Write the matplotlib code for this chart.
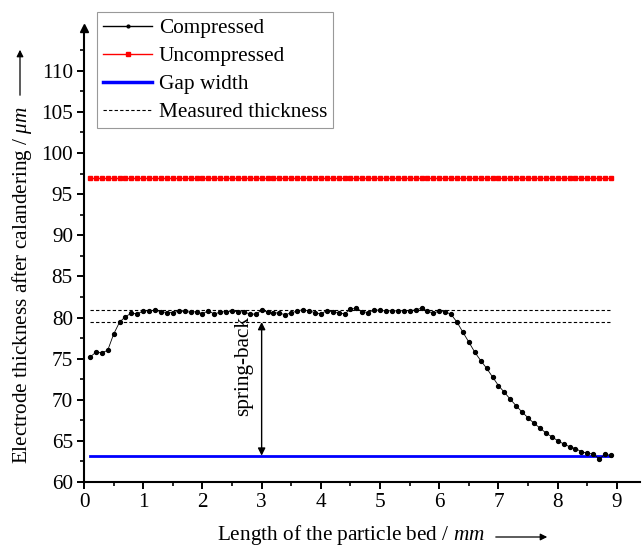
import numpy as np
import matplotlib
matplotlib.use("Agg")
import matplotlib.pyplot as plt
from matplotlib.lines import Line2D
from matplotlib.patches import FancyArrowPatch

plt.rcParams["font.family"] = ["Liberation Serif", "DejaVu Serif"]
plt.rcParams["mathtext.fontset"] = "custom"
plt.rcParams["mathtext.rm"] = "Liberation Serif"
plt.rcParams["mathtext.it"] = "Liberation Serif:italic"

FS = 15.3

# position along the particle bed (mm), one point every 0.1 mm
x_mm = np.round(np.arange(1, 90) * 0.1, 1)

# electrode thickness after calendering (um)
compressed = [
    75.17, 75.78, 75.73, 76.00, 77.97, 79.43, 80.11, 80.52, 80.44, 80.80,
    80.84, 80.88, 80.72, 80.60, 80.60, 80.76, 80.76, 80.64,
    80.72, 80.44, 80.84, 80.40, 80.68, 80.72, 80.76, 80.72, 80.68, 80.44,
    80.40, 80.88, 80.68, 80.60, 80.52, 80.35, 80.55, 80.80, 80.95, 80.80,
    80.60,
    80.44, 80.84, 80.68, 80.60, 80.44, 81.00, 81.13, 80.72, 80.60, 80.92,
    80.88, 80.80, 80.84, 80.80, 80.84, 80.84, 80.92, 81.13, 80.80, 80.50,
    80.82, 80.72, 80.38, 79.43, 78.20, 77.00, 75.78, 74.76, 73.83, 72.77,
    71.72, 70.90, 70.06, 69.25, 68.50, 67.80, 67.14, 66.57, 65.97, 65.50,
    65.03, 64.62, 64.30, 64.06, 63.70, 63.49, 63.40, 62.80, 63.36, 63.24,
]
uncompressed = 97.0
gap_width = 63.2
measured = [80.9, 79.45]

fig = plt.figure(figsize=(6.44, 5.46), dpi=100)
ax = fig.add_axes([84 / 644, 64 / 546, 556 / 644, 454 / 546])

ax.plot(x_mm, compressed, "-", color="black", lw=0.6, marker="o", ms=2.8,
        mec="black", mfc="black", zorder=4)
ax.plot(x_mm, np.full(len(x_mm), uncompressed), "-", color="red", lw=0.9,
        marker="s", ms=3.0, mec="red", mfc="red", zorder=3)
ax.plot([x_mm[0], x_mm[-1]], [gap_width, gap_width], color="blue", lw=2.0, zorder=3)
for m in measured:
    ax.plot([x_mm[0], x_mm[-1]], [m, m], color="black", lw=0.8,
            ls=(0, (3, 2)), zorder=2)

# spring-back arrow between lower measured thickness and gap width
ax.annotate("", xy=(3.0, gap_width), xytext=(3.0, measured[1]),
            arrowprops=dict(arrowstyle="<|-|>", color="black", lw=1.0,
                            mutation_scale=11, shrinkA=0, shrinkB=0))
ax.text(2.70, 74.1, "spring-back", rotation=90, ha="center", va="center",
        fontsize=FS)

ax.set_xlim(0, 9.39)
ax.set_ylim(60, 115.2)
ax.set_xticks(np.arange(0, 10, 1))
ax.set_yticks(np.arange(60, 115, 5))
ax.set_xticks(np.arange(0.5, 9.5, 1), minor=True)
ax.set_yticks(np.arange(62.5, 115, 5), minor=True)
ax.tick_params(which="major", direction="out", length=5, width=1.4,
               labelsize=FS, pad=3)
ax.tick_params(which="minor", direction="out", length=3, width=1.2)

for s in ("top", "right"):
    ax.spines[s].set_visible(False)
for s in ("left", "bottom"):
    ax.spines[s].set_linewidth(1.5)

# arrow heads on the axis lines
ax.plot(1, 0, ">k", ms=6, transform=ax.get_yaxis_transform(), clip_on=False)
ax.plot(0, 1, "^k", ms=6, transform=ax.get_xaxis_transform(), clip_on=False)

# axis labels with direction arrows
fig.text(22 / 644, 1 - 285 / 546,
         r"Electrode thickness after calandering / $\mu m$",
         rotation=90, ha="center", va="center", fontsize=FS)
fig.text(351 / 644, 1 - 535 / 546, r"Length of the particle bed / $mm$",
         ha="center", va="center", fontsize=FS)
fig.add_artist(FancyArrowPatch(
    (20 / 644, 1 - 98 / 546), (20 / 644, 1 - 47 / 546),
    transform=fig.transFigure, arrowstyle="-|>", mutation_scale=10,
    color="black", lw=0.9))
fig.add_artist(FancyArrowPatch(
    (493 / 644, 1 - 537 / 546), (550 / 644, 1 - 537 / 546),
    transform=fig.transFigure, arrowstyle="-|>", mutation_scale=10,
    color="black", lw=0.9))

handles = [
    Line2D([], [], color="black", lw=1.0, marker="o", ms=2),
    Line2D([], [], color="red", lw=1.0, marker="s", ms=2.5),
    Line2D([], [], color="blue", lw=2.5),
    Line2D([], [], color="black", lw=0.8, ls=(0, (3, 2))),
]
labels = ["Compressed", "Uncompressed", "Gap width", "Measured thickness"]
leg = fig.legend(handles, labels, loc="upper left",
                 bbox_to_anchor=(97 / 644, 1 - 12 / 546), fontsize=FS,
                 frameon=True, fancybox=False, edgecolor="gray",
                 handlelength=2.3, handletextpad=0.3, labelspacing=0.38,
                 borderpad=0.3, borderaxespad=0, numpoints=1)
leg.get_frame().set_linewidth(0.8)

fig.savefig("out.png", dpi=100)
